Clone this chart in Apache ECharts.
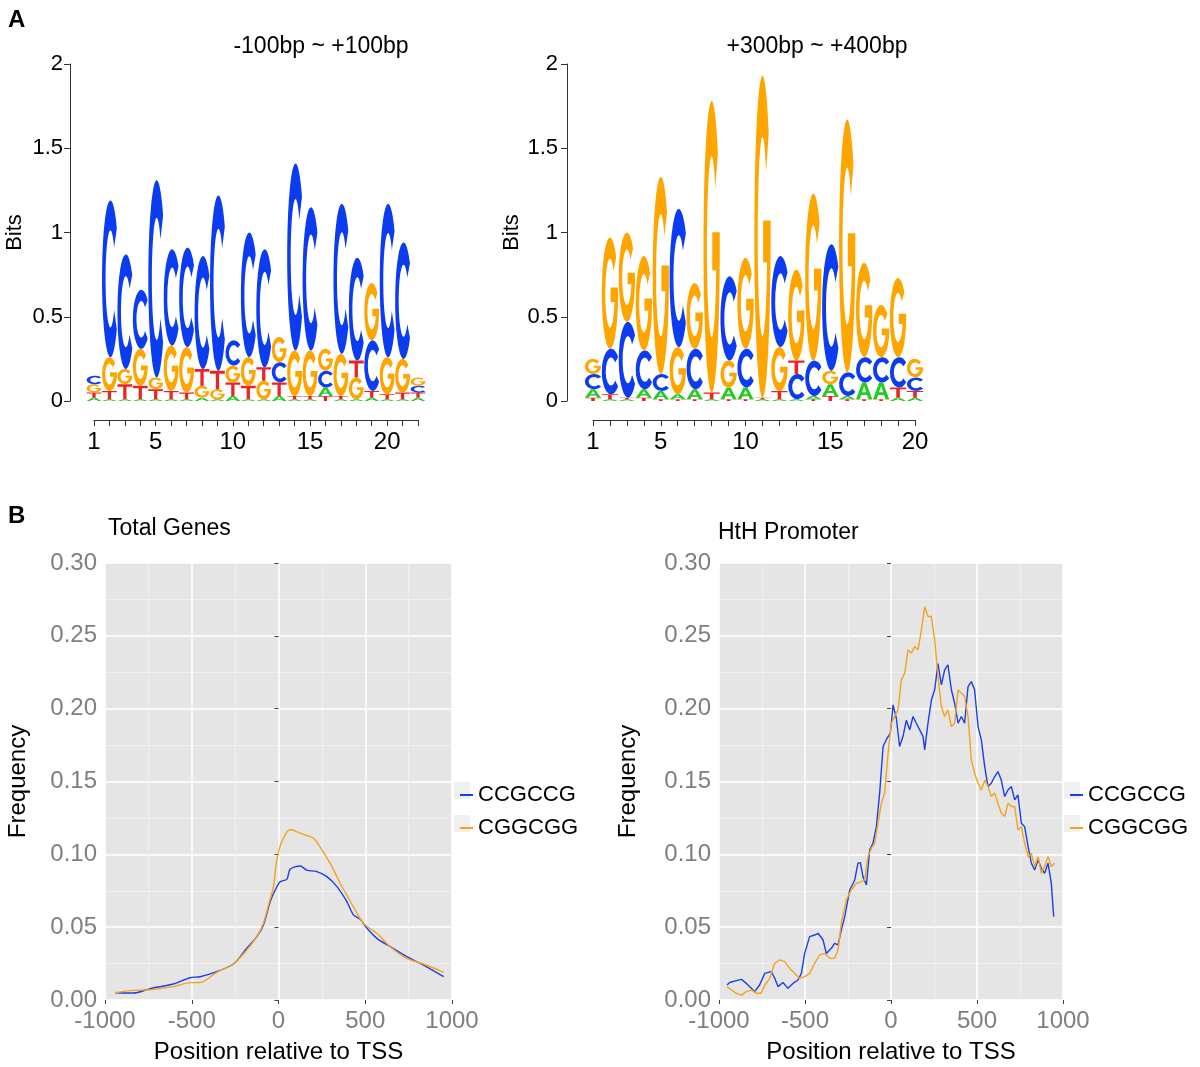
<!DOCTYPE html>
<html><head><meta charset="utf-8">
<script src="https://cdn.jsdelivr.net/npm/echarts@6/dist/echarts.min.js"></script>
<style>html,body{margin:0;padding:0;background:#fff}#c{width:1200px;height:1067px}</style>
</head><body><div id="c"></div>
<script>
const FONT = '"Liberation Sans", Arial, Helvetica, sans-serif';

// ---- Panel A: sequence logos (letters bottom -> top, heights in bits) ----
const logo1Letters = ['ATGC','ATGC','ATGC','ATGC','ATGC','ATGC','ATGC','AGTC','AGTC','ATGC','ATGC',
                      'AGTC','ATCG','ATGC','ATGC','TACG','ATGC','AGTC','ATCG','ATGC','ATGC','ATCG'];
const logo1Heights = [
  [.02,.03,.05,.05],[.01,.05,.20,.93],[.01,.09,.09,.68],[.01,.08,.22,.35],[.01,.06,.07,1.17],
  [.01,.05,.27,.57],[.01,.04,.27,.59],[.02,.07,.10,.67],[.01,.06,.11,1.04],[.03,.08,.10,.15],
  [.01,.08,.17,.74],[.01,.11,.08,.70],[.03,.08,.12,.15],[.01,.02,.27,1.11],[.01,.02,.27,.85],
  [.03,.05,.10,.13],[.01,.02,.25,.89],[.01,.13,.10,.61],[.02,.04,.30,.34],[.01,.03,.22,.91],
  [.01,.04,.20,.69],[.02,.03,.04,.05]
];
const logo2Letters = ['TACG','ATCG','ATCG','TACG','TACG','TAGC','TACG','ATG','TAGC','TACG',
                      'ATG','ATGC','ACTG','TACG','TAGC','TACG','TACG','TACG','ATCG','ATCG'];
const logo2Heights = [
  [.02,.05,.09,.09],[.01,.03,.27,.66],[.01,.01,.45,.53],[.02,.05,.23,.56],[.01,.05,.10,1.17],
  [.01,.03,.28,.82],[.01,.06,.24,.39],[.01,.04,1.73],[.01,.07,.16,.50],[.01,.07,.23,.54],
  [.01,.01,1.91],[.01,.05,.26,.54],[.01,.15,.08,.54],[.01,.02,.21,.99],[.03,.07,.08,.75],
  [.01,.02,.14,1.50],[.01,.10,.15,.56],[.01,.10,.15,.31],[.02,.06,.18,.47],[.02,.04,.08,.11]
];
const logoXLabels = [1, 5, 10, 15, 20];
const logo1Title = '-100bp ~ +100bp';
const logo2Title = '+300bp ~ +400bp';

// ---- Panel B: Total Genes ----
const totalPosBlue = [-942,-837,-740,-606,-510,-452,-356,-260,-183,-125,-87,-48,-19,10,48,67,125,163,221,279,337,394,432,471,510,567,644,740,836,952];
const totalCCGCCG  = [.005,.0048,.0078,.011,.0153,.016,.0195,.0247,.0355,.0435,.0515,.0675,.0755,.0812,.0828,.0897,.092,.0892,.0881,.0847,.0778,.0675,.0584,.0554,.0492,.0423,.0366,.0297,.024,.016];
const totalPosOrange = [-942,-837,-740,-606,-510,-452,-356,-260,-183,-125,-87,-58,-29,-10,19,67,125,202,240,298,356,432,490,567,644,740,836,952];
const totalCGGCGG  = [.005,.0066,.007,.0092,.0119,.012,.019,.0247,.0343,.0435,.0526,.065,.0778,.0961,.1087,.117,.1145,.111,.105,.0938,.080,.064,.0526,.0458,.0366,.0286,.0247,.019];

// ---- Panel B: HtH Promoter ----
const hthPosBlue = [-953,-938,-899,-870,-841,-812,-793,-764,-734,-696,-676,-657,-628,-599,-570,-541,-521,-502,-473,-444,-424,-395,-376,-347,-328,-308,-289,-269,-240,-211,-192,-178,-163,-143,-124,-105,-85,-66,-46,-23,-4,12,31,50,70,89,109,128,147,167,186,196,215,235,254,273,293,312,331,351,370,390,409,428,448,467,486,506,525,545,564,583,603,622,641,661,680,700,719,738,758,777,797,816,835,855,874,893,913,932,946];
const hthCCGCCG = [.0103,.012,.0133,.0142,.0114,.008,.0057,.0103,.0183,.0195,.0149,.0092,.012,.008,.0114,.0137,.0183,.032,.0435,.0446,.0458,.0412,.032,.0355,.0389,.0378,.048,.0572,.0755,.0824,.0939,.0943,.0847,.079,.103,.1076,.119,.142,.174,.1797,.183,.2026,.1934,.174,.181,.192,.1854,.1946,.19,.1854,.181,.1717,.19,.206,.213,.231,.2163,.2266,.23,.213,.2037,.19,.1946,.19,.2152,.2186,.213,.1877,.1786,.160,.1465,.1488,.1534,.1568,.151,.1397,.1442,.1465,.1374,.1408,.1213,.119,.1053,.0939,.0893,.0962,.0904,.087,.0939,.080,.0572];
const hthPosOrange = [-953,-928,-899,-870,-841,-812,-783,-754,-734,-705,-676,-647,-618,-589,-560,-531,-502,-473,-444,-415,-386,-357,-328,-308,-289,-260,-231,-202,-172,-153,-134,-114,-95,-76,-56,-37,-17,2,21,41,60,80,99,118,138,157,177,196,215,234,254,273,293,312,331,351,370,390,409,428,448,467,486,506,525,545,564,583,603,622,641,661,680,700,719,738,758,777,797,816,835,855,874,893,913,932,951];
const hthCGGCGG = [.0092,.0069,.0046,.0034,.0057,.0069,.0046,.0046,.0103,.0149,.0252,.0275,.0263,.0217,.0183,.0149,.016,.0183,.0252,.0309,.032,.0286,.0286,.0343,.0527,.0687,.0755,.080,.0813,.0824,.0984,.1042,.1076,.1213,.135,.142,.1694,.19,.1946,.1992,.2198,.2244,.2404,.2381,.2427,.2404,.2541,.270,.2633,.2633,.2473,.2221,.2015,.1946,.1992,.1877,.19,.2129,.2106,.2083,.1946,.1648,.1557,.1488,.1442,.151,.1465,.1397,.142,.135,.1282,.1259,.135,.1328,.1328,.1168,.119,.1076,.0984,.1007,.0916,.0984,.087,.0916,.0984,.0916,.0939];

const seriesNames = ['CCGCCG', 'CGGCGG'];
const seriesColors = ['#1A3FE8', '#F5A21C'];

// ---- glyphs (100x100 boxes) ----
const GLYPH = {
  A: 'M38,0 L62,0 L100,100 L77,100 L68,74 L32,74 L23,100 L0,100 Z M37,58 L63,58 L50,21 Z',
  C: 'M88.3,17.86 A50,50 0 1,0 88.3,82.14 L72.22,69.93 A29,31 0 1,1 72.22,30.07 Z',
  G: 'M88.3,17.86 A50,50 0 1,0 99.93,52.62 L99.93,45 L54,45 L54,58.02 L78.01,58.02 A29,31 0 1,1 72.22,30.07 Z',
  T: 'M0,0 L100,0 L100,17 L61,17 L61,100 L39,100 L39,17 L0,17 Z'
};
const LETTER_COLOR = { A: '#22CC22', C: '#0C3CF0', G: '#FFA500', T: '#EE2222' };
const LETTERS = 'ACGT';

function buildLogo(letters, heights) {
  const out = [];
  letters.forEach((s, i) => {
    let base = 0;
    for (let k = 0; k < s.length; k++) {
      const h = heights[i][k];
      out.push([i + 1, base, base + h, LETTERS.indexOf(s[k])]);
      base += h;
    }
  });
  return out;
}
function renderLetter(params, api) {
  const pos = api.value(0), y0 = api.value(1), y1 = api.value(2), li = api.value(3);
  const a = api.coord([pos, y0]), b = api.coord([pos, y1]);
  const w = api.size([1, 0])[0] * 0.96;
  const h = a[1] - b[1];
  if (h < 0.3) return null;
  const L = LETTERS[li];
  return {
    type: 'path',
    shape: { pathData: GLYPH[L], x: a[0] - w / 2, y: b[1], width: w, height: h, layout: 'cover' },
    style: { fill: LETTER_COLOR[L] }
  };
}
const pairs = (xs, ys) => xs.map((x, i) => [x, ys[i]]);

const axisDark = '#333';
function logoX(gi, maxPos) {
  return {
    gridIndex: gi, type: 'value', min: 1, max: maxPos, interval: 1, position: 'bottom', offset: 19,
    axisLine: { show: true, onZero: false, lineStyle: { color: axisDark, width: 1 } },
    axisTick: { show: true, length: 6, lineStyle: { color: axisDark, width: 1 } },
    axisLabel: { fontSize: 24, color: '#000', fontFamily: FONT, margin: 10,
      formatter: v => logoXLabels.includes(v) ? String(v) : '' },
    splitLine: { show: false }
  };
}
function logoY(gi, off, gap, margin) {
  return {
    gridIndex: gi, type: 'value', min: 0, max: 2, interval: 0.5, offset: off,
    axisLine: { show: true, lineStyle: { color: axisDark, width: 1 } },
    axisTick: { show: true, length: 6, lineStyle: { color: axisDark, width: 1 } },
    axisLabel: { fontSize: 22, color: '#000', fontFamily: FONT, margin: margin, formatter: v => String(v) },
    splitLine: { show: false },
    name: 'Bits', nameLocation: 'middle', nameGap: gap,
    nameTextStyle: { fontSize: 22, color: '#000', fontFamily: FONT }
  };
}
function freqX(gi) {
  return {
    gridIndex: gi, type: 'value', min: -1000, max: 1000, interval: 500,
    axisLine: { show: false },
    axisTick: { show: true, length: 4, lineStyle: { color: '#444' } },
    axisLabel: { fontSize: 24, color: '#7F7F7F', fontFamily: FONT, margin: 9, formatter: v => String(v) },
    splitLine: { show: true, lineStyle: { color: '#FFFFFF', width: 1.6 } },
    minorTick: { show: false, splitNumber: 2 },
    minorSplitLine: { show: true, lineStyle: { color: '#F3F3F3', width: 0.8 } },
    name: 'Position relative to TSS', nameLocation: 'middle', nameGap: 40,
    nameTextStyle: { fontSize: 24, color: '#000', fontFamily: FONT }
  };
}
function freqY(gi, gap) {
  return {
    gridIndex: gi, type: 'value', min: 0, max: 0.3, interval: 0.05,
    axisLine: { show: false },
    axisTick: { show: true, length: 4, lineStyle: { color: '#444' } },
    axisLabel: { fontSize: 24, color: '#7F7F7F', fontFamily: FONT, margin: 8, formatter: v => v.toFixed(2) },
    splitLine: { show: true, lineStyle: { color: '#FFFFFF', width: 1.6 } },
    minorTick: { show: false, splitNumber: 2 },
    minorSplitLine: { show: true, lineStyle: { color: '#F3F3F3', width: 0.8 } },
    name: 'Frequency', nameLocation: 'middle', nameGap: gap,
    nameTextStyle: { fontSize: 24, color: '#000', fontFamily: FONT }
  };
}
function lineSeries(name, color, xi, data, smooth) {
  return {
    type: 'line', name: name, xAxisIndex: xi, yAxisIndex: xi, data: data,
    showSymbol: false, smooth: smooth, color: color,
    lineStyle: { color: color, width: 1.4 }, itemStyle: { color: color }
  };
}
function legendAt(left) {
  return {
    left: left, top: 779, orient: 'vertical', itemGap: 11, itemWidth: 13, itemHeight: 2, icon: 'rect',
    textStyle: { fontSize: 22, color: '#000', fontFamily: FONT },
    data: seriesNames
  };
}
function txt(x, y, text, size, align, bold) {
  return { type: 'text', x: x, y: y, z: 10,
    style: { text: text, fontSize: size, fontFamily: FONT, fontWeight: bold ? 'bold' : 'normal',
      fill: '#000', align: align, textAlign: align, verticalAlign: 'middle', textVerticalAlign: 'middle' } };
}
function keyBox(x, y) {
  return { type: 'rect', z: 0, shape: { x: x, y: y, width: 16, height: 17 }, style: { fill: '#F0F0F0' } };
}

const chart = echarts.init(document.getElementById('c'), null, { renderer: 'canvas' });
chart.setOption({
  animation: false,
  backgroundColor: '#FFFFFF',
  grid: [
    { left: 94, top: 64, width: 324, height: 337, show: false },
    { left: 593, top: 64, width: 322, height: 337, show: false },
    { left: 105, top: 563, width: 347, height: 437, show: true, backgroundColor: '#E5E5E5', borderWidth: 0 },
    { left: 719, top: 563, width: 344, height: 437, show: true, backgroundColor: '#E5E5E5', borderWidth: 0 }
  ],
  xAxis: [logoX(0, logo1Letters.length), logoX(1, logo2Letters.length), freqX(2), freqX(3)],
  yAxis: [logoY(0, 24, 44, 7), logoY(1, 26, 44, 9), freqY(2, 75), freqY(3, 79)],
  legend: [legendAt(455), legendAt(1065)],
  graphic: [
    txt(8, 20, 'A', 24, 'left', true),
    txt(321, 47, logo1Title, 23, 'center'),
    txt(817, 47, logo2Title, 23, 'center'),
    txt(8, 516, 'B', 24, 'left', true),
    txt(108, 529, 'Total Genes', 23, 'left'),
    txt(718, 533, 'HtH Promoter', 23, 'left'),
    keyBox(454, 782), keyBox(454, 815), keyBox(1064, 782), keyBox(1064, 815)
  ],
  series: [
    { type: 'custom', name: 'logo1', xAxisIndex: 0, yAxisIndex: 0, renderItem: renderLetter,
      data: buildLogo(logo1Letters, logo1Heights), encode: { x: 0, y: [1, 2] }, clip: false, silent: true },
    { type: 'custom', name: 'logo2', xAxisIndex: 1, yAxisIndex: 1, renderItem: renderLetter,
      data: buildLogo(logo2Letters, logo2Heights), encode: { x: 0, y: [1, 2] }, clip: false, silent: true },
    lineSeries(seriesNames[0], seriesColors[0], 2, pairs(totalPosBlue, totalCCGCCG), 0.3),
    lineSeries(seriesNames[1], seriesColors[1], 2, pairs(totalPosOrange, totalCGGCGG), 0.3),
    lineSeries(seriesNames[0], seriesColors[0], 3, pairs(hthPosBlue, hthCCGCCG), false),
    lineSeries(seriesNames[1], seriesColors[1], 3, pairs(hthPosOrange, hthCGGCGG), false)
  ]
});
</script></body></html>
